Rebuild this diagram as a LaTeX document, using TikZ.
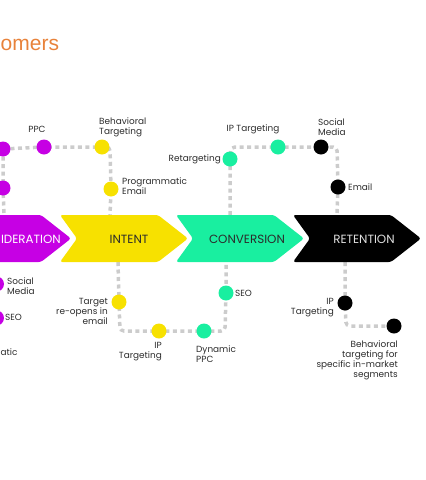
\documentclass[tikz,border=0pt]{standalone}
\usepackage{fontspec}
\setmainfont{Poppins}
\newfontfamily\titlefont{Liberation Sans}
\usetikzlibrary{backgrounds}
\definecolor{cpur}{HTML}{C600E4}
\definecolor{cyel}{HTML}{F7E100}
\definecolor{cgrn}{HTML}{19EFA0}
\definecolor{cblk}{HTML}{000000}
\definecolor{corg}{HTML}{E8823A}
\definecolor{clab}{HTML}{2B2B2B}
\definecolor{cline}{HTML}{CCCCCC}
\newcommand\mychev[2]{%
  \fill[#2, rounded corners=2.5pt] (#1,215) -- ({#1+98},215) -- ({#1+128},238.5) -- ({#1+98},262) -- (#1,262) -- ({#1+17},238.5) -- cycle;}
\begin{document}
\begin{tikzpicture}[x=1pt,y=-1pt,
  dot/.style={circle, fill=#1, minimum size=15pt, inner sep=0pt},
  conn/.style={draw=cline, line width=3.5pt, dash pattern=on 4pt off 3.5pt, rounded corners=4pt},
  lab/.style={font=\fontsize{8.9}{10}\selectfont, text=clab, inner sep=0pt},
  stage/.style={font=\fontsize{11.9}{13}\selectfont, inner sep=0pt}]
\clip (0,0) rectangle (426,480);
% title
\node[font=\titlefont\fontsize{21}{24}\selectfont, text=corg, anchor=base west, inner sep=0pt] (title) at (0.5,50) {omers};
% stages
\mychev{-57}{cpur}
\mychev{60}{cyel}
\mychev{176}{cgrn}
\mychev{293}{cblk}
\node[stage, text=white, anchor=east] (tcons) at (61,239) {IDERATION};
\node[stage, text=clab] (tint) at (129,239) {INTENT};
\node[stage, text=clab] (tconv) at (247,239) {CONVERSION};
\node[stage, text=white!88!black] (tret) at (364,239) {RETENTION};
% anchor points on the stages
\coordinate (pTop) at (4,215);
\coordinate (yTop) at (110,215);
\coordinate (gTop) at (230,215);
\coordinate (kTop) at (337,215);
\coordinate (yBot) at (118,262);
\coordinate (gBot) at (226,262);
\coordinate (kBot) at (345,262);
% corner points
\coordinate (c1) at (110,147);
\coordinate (c2) at (231,147);
\coordinate (c3) at (337,147);
\coordinate (c4) at (120,331);
\coordinate (c5) at (225,331);
\coordinate (c6) at (346,326);
% dots
\node[dot=cpur] (p1) at (3,149) {};
\node[dot=cpur] (p2) at (3,188) {};
\node[dot=cpur] (ppc) at (44,147) {};
\node[dot=cyel] (yb) at (102,147) {};
\node[dot=cyel] (yp) at (111,189) {};
\node[dot=cgrn] (gr) at (230,159) {};
\node[dot=cgrn] (gi) at (278,147) {};
\node[dot=cblk] (ks) at (321,147) {};
\node[dot=cblk] (ke) at (338,187) {};
\node[dot=cyel] (yt) at (119,302) {};
\node[dot=cyel] (yi) at (159,331) {};
\node[dot=cgrn] (gd) at (204,331) {};
\node[dot=cgrn] (gs) at (226,293) {};
\node[dot=cblk] (ki) at (345,303) {};
\node[dot=cblk] (kb) at (394,326) {};
\node[dot=cpur] (p3) at (-3.5,284) {};
\node[dot=cpur] (p4) at (-3.5,318) {};
% connectors
\begin{scope}[on background layer]
\draw[conn] (p1.center) -- (ppc.center) -- (yb.center) -- (c1) -- (yp.center) -- (yTop);
\draw[conn] (p1.center) -- (p2.center) -- (pTop);
\draw[conn] (gTop) -- (gr.center) -- (c2) -- (gi.center) -- (ks.center) -- (c3) -- (ke.center) -- (kTop);
\draw[conn] (yBot) -- (yt.center) -- (c4) -- (yi.center) -- (gd.center) -- (c5) -- (gs.center) -- (gBot);
\draw[conn] (kBot) -- (ki.center) -- (c6) -- (kb.center);
\end{scope}
% labels
\node[lab] (lppc) at (37,129) {PPC};
\node[lab, anchor=west, align=left] (lyb) at (99,127.5) {Behavioral\\Targeting};
\node[lab, anchor=west, align=left] (lyp) at (122,186.5) {Programmatic\\Email};
\node[lab, anchor=east] (lgr) at (221,159) {Retargeting};
\node[lab] (lgi) at (253,129) {IP Targeting};
\node[lab, anchor=west, align=left] (lks) at (318,127.5) {Social\\Media};
\node[lab, anchor=west] (lke) at (348,187) {Email};
\node[lab, anchor=east, align=right] (lyt) at (108,311) {Target\\re-opens in\\email};
\node[lab, anchor=east, align=right] (lyi) at (162,352) {IP\\Targeting};
\node[lab, anchor=west, align=left] (lgd) at (196,354) {Dynamic\\PPC};
\node[lab, anchor=west] (lgs) at (235,293) {SEO};
\node[lab, anchor=east, align=right] (lki) at (334,307.5) {IP\\Targeting};
\node[lab, anchor=east, align=right] (lkb) at (398,360) {Behavioral\\targeting for\\specific in-market\\segments};
\node[lab, anchor=west, align=left] (lp3) at (7,286.5) {Social\\Media};
\node[lab, anchor=west] (lp4) at (5,317) {SEO};
\node[lab, anchor=west] (lp5) at (0.5,352) {atic};
\end{tikzpicture}
\end{document}
